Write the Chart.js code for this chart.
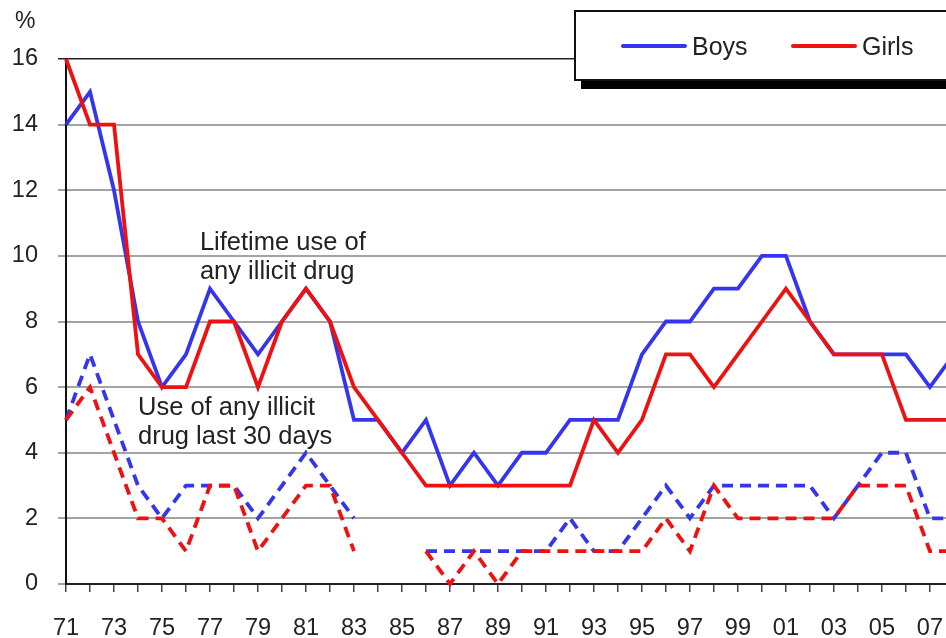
<!DOCTYPE html>
<html>
<head>
<meta charset="utf-8">
<title>Illicit drug use, boys and girls</title>
<script src="https://cdn.jsdelivr.net/npm/chart.js@4/dist/chart.umd.min.js"></script>
<style>
    html, body { margin: 0; padding: 0; background: #fff; overflow: hidden; }
    #wrap { position: relative; width: 946px; height: 638px; }
</style>
</head>
<body>
<div id="wrap"><canvas id="drugChart"></canvas></div>
<script>
// survey years 1971-2008 (2008 runs off the right edge)
const years = [1971, 1972, 1973, 1974, 1975, 1976, 1977, 1978, 1979, 1980,
    1981, 1982, 1983, 1984, 1985, 1986, 1987, 1988, 1989, 1990,
    1991, 1992, 1993, 1994, 1995, 1996, 1997, 1998, 1999, 2000,
    2001, 2002, 2003, 2004, 2005, 2006, 2007, 2008];

const boysLifetime = [14, 15, 12, 8, 6, 7, 9, 8, 7, 8,
    9, 8, 5, 5, 4, 5, 3, 4, 3, 4,
    4, 5, 5, 5, 7, 8, 8, 9, 9, 10,
    10, 8, 7, 7, 7, 7, 6, 7];
const girlsLifetime = [16, 14, 14, 7, 6, 6, 8, 8, 6, 8,
    9, 8, 6, 5, 4, 3, 3, 3, 3, 3,
    3, 3, 5, 4, 5, 7, 7, 6, 7, 8,
    9, 8, 7, 7, 7, 5, 5, 5];
const boys30Days = [5, 7, 5, 3, 2, 3, 3, 3, 2, 3,
    4, 3, 2, null, null, 1, 1, 1, 1, 1,
    1, 2, 1, 1, 2, 3, 2, 3, 3, 3,
    3, 3, 2, 3, 4, 4, 2, 2];
const girls30Days = [5, 6, 4, 2, 2, 1, 3, 3, 1, 2,
    3, 3, 1, null, null, 1, 0, 1, 0, 1,
    1, 1, 1, 1, 1, 2, 1, 3, 2, 2,
    2, 2, 2, 3, 3, 3, 1, 1];

const yTicks = [0, 2, 4, 6, 8, 10, 12, 14, 16];
const xTickYears = years.slice(0, 37); // 71 .. 07

// text labels placed in data units (year, percent)
const notes = [
    { lines: ["Lifetime use of", "any illicit drug"], year: 1976.58, value: 10.18 },
    { lines: ["Use of any illicit", "drug last 30 days"], year: 1974.0, value: 5.15 }
];

const BLUE = "#3535ef";
const RED = "#ee1111";
const FONT = "'Liberation Sans', Arial, sans-serif";

function toPoints(values) {
    return years.map((yr, i) => ({ x: yr, y: values[i] }));
}

const overlayPlugin = {
    id: "overlay",
    afterDraw(chart) {
        const ctx = chart.ctx;
        const xs = chart.scales.x;
        const ys = chart.scales.y;
        ctx.save();

        // "%" unit above the y axis
        ctx.fillStyle = "#222";
        ctx.font = "23px " + FONT;
        ctx.textAlign = "left";
        ctx.textBaseline = "alphabetic";
        ctx.fillText("%", 15, 28);

        // in-plot notes
        ctx.font = "25.5px " + FONT;
        notes.forEach(note => {
            const px = xs.getPixelForValue(note.year);
            const py = ys.getPixelForValue(note.value);
            note.lines.forEach((line, i) => ctx.fillText(line, px, py + i * 29));
        });

        // legend box with drop shadow
        const bx = 575, by = 11, bw = 400, bh = 69;
        ctx.fillStyle = "#000";
        ctx.fillRect(bx + 6, by + 9, bw, bh);
        ctx.fillStyle = "#fff";
        ctx.fillRect(bx, by, bw, bh);
        ctx.strokeStyle = "#111";
        ctx.lineWidth = 2;
        ctx.strokeRect(bx, by, bw, bh);

        const items = chart.data.datasets.filter(d => d.legendLabel);
        const starts = [623, 793];
        ctx.font = "25px " + FONT;
        items.forEach((d, i) => {
            const lx = starts[i];
            ctx.strokeStyle = d.borderColor;
            ctx.lineWidth = 4;
            ctx.lineCap = "round";
            ctx.beginPath();
            ctx.moveTo(lx, 46);
            ctx.lineTo(lx + 62, 46);
            ctx.stroke();
            ctx.fillStyle = "#222";
            ctx.fillText(d.legendLabel, lx + 69, 55);
        });

        ctx.restore();
    }
};

function lineSet(label, values, color, dashed, order, legendLabel) {
    return {
        label: label,
        legendLabel: legendLabel,
        data: toPoints(values),
        borderColor: color,
        backgroundColor: color,
        borderWidth: 3.8,
        borderDash: dashed ? [11, 7] : [],
        pointRadius: 0,
        tension: 0,
        spanGaps: false,
        order: order,
        clip: { left: 4, top: 4, right: 0, bottom: 4 }
    };
}

new Chart(document.getElementById("drugChart"), {
    type: "line",
    data: {
        datasets: [
            lineSet("Boys - lifetime", boysLifetime, BLUE, false, 3, "Boys"),
            lineSet("Girls - lifetime", girlsLifetime, RED, false, 1, "Girls"),
            lineSet("Boys - last 30 days", boys30Days, BLUE, true, 4),
            lineSet("Girls - last 30 days", girls30Days, RED, true, 2)
        ]
    },
    options: {
        responsive: true,
        maintainAspectRatio: false,
        animation: false,
        events: [],
        layout: { padding: { top: 59, right: 0, bottom: 0, left: 0 } },
        plugins: {
            legend: { display: false },
            tooltip: { enabled: false }
        },
        scales: {
            x: {
                type: "linear",
                min: 1971,
                max: 2007.67,
                afterBuildTicks: scale => {
                    scale.ticks = xTickYears.map(v => ({ value: v }));
                },
                afterFit: scale => {
                    scale.height = 54;
                    scale.paddingLeft = 0;
                    scale.paddingRight = 0;
                },
                ticks: {
                    autoSkip: false,
                    maxRotation: 0,
                    padding: 22,
                    color: "#222",
                    font: { family: FONT, size: 23.5 },
                    callback: v => (v % 2 === 1 ? String(v).slice(2) : "")
                },
                grid: {
                    drawOnChartArea: false,
                    drawTicks: true,
                    tickLength: 8,
                    color: "#444",
                    lineWidth: 1.5
                },
                border: { color: "#222", width: 2 }
            },
            y: {
                min: 0,
                max: 16,
                afterBuildTicks: scale => {
                    scale.ticks = yTicks.map(v => ({ value: v }));
                },
                afterFit: scale => {
                    scale.width = 66;
                    scale.paddingTop = 0;
                    scale.paddingBottom = 0;
                },
                ticks: {
                    padding: 20,
                    color: "#222",
                    font: { family: FONT, size: 23.5 }
                },
                grid: {
                    tickLength: 8,
                    color: ctx => (ctx.tick && ctx.tick.value === 16 ? "#222" : "#a3a3a3"),
                    lineWidth: ctx => (ctx.tick && ctx.tick.value === 16 ? 1.5 : 2)
                },
                border: { color: "#111", width: 2 }
            }
        }
    },
    plugins: [overlayPlugin]
});
</script>
</body>
</html>
